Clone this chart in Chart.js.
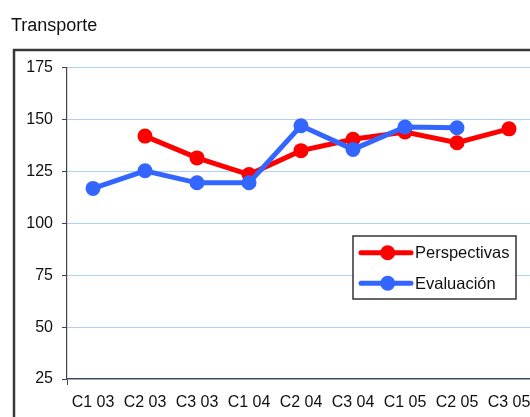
<!DOCTYPE html>
<html>
<head>
<meta charset="utf-8">
<script src="https://cdn.jsdelivr.net/npm/chart.js@4"></script>
<style>
  html, body { margin: 0; padding: 0; background: #fff; overflow: hidden; }
  #wrap { position: absolute; left: 0; top: 0; }
</style>
</head>
<body>
<div id="wrap"><canvas id="transporteChart" width="560" height="440"></canvas></div>
<script>
const categories = ['C1 03', 'C2 03', 'C3 03', 'C1 04', 'C2 04', 'C3 04', 'C1 05', 'C2 05', 'C3 05'];
const perspectivas = [null, 142, 131.5, 123.5, 135, 140.5, 144, 138.8, 145.5];
const evaluacion = [116.8, 125.3, 119.5, 119.5, 147, 135.6, 146.4, 146, null];
const yTicks = [25, 50, 75, 100, 125, 150, 175];

const FONT = "'Liberation Sans', Arial, sans-serif";
const TEXT = '#111111';

// white page + dark frame round the plot, like the spreadsheet chart
const framePlugin = {
  id: 'frame',
  beforeDraw(chart) {
    const c = chart.ctx;
    c.save();
    c.fillStyle = '#fff';
    c.fillRect(0, 0, chart.width, chart.height);
    c.strokeStyle = '#383838';
    c.lineWidth = 2.5;
    c.strokeRect(14, 50, 600, 500);
    c.restore();
  }
};

// legend box inside the plot, drawn from the datasets
const boxLegend = {
  id: 'boxLegend',
  afterDraw(chart) {
    const c = chart.ctx;
    const sets = chart.data.datasets;
    const x = 353, y = 236, w = 163, h = 63;
    c.save();
    c.fillStyle = '#fff';
    c.fillRect(x, y, w, h);
    c.strokeStyle = '#333';
    c.lineWidth = 1.5;
    c.strokeRect(x, y, w, h);
    sets.forEach((ds, i) => {
      const cy = 252.7 + i * 30.6;
      c.strokeStyle = ds.borderColor;
      c.lineWidth = 5;
      c.lineCap = 'round';
      c.beginPath();
      c.moveTo(361, cy);
      c.lineTo(411, cy);
      c.stroke();
      c.fillStyle = ds.borderColor;
      c.beginPath();
      c.arc(387.7, cy, 7.5, 0, Math.PI * 2);
      c.fill();
      c.fillStyle = TEXT;
      c.font = '16.5px ' + FONT;
      c.textBaseline = 'middle';
      c.fillText(ds.label, 415, cy + 1);
    });
    c.restore();
  }
};

new Chart(document.getElementById('transporteChart').getContext('2d'), {
  type: 'line',
  data: {
    labels: categories,
    datasets: [
      {
        label: 'Perspectivas',
        data: perspectivas,
        borderColor: '#ff0000',
        backgroundColor: '#ff0000',
        borderWidth: 5,
        pointRadius: 7.5,
        pointBorderWidth: 0,
        tension: 0,
        order: 1
      },
      {
        label: 'Evaluación',
        data: evaluacion,
        borderColor: '#3366ff',
        backgroundColor: '#3366ff',
        borderWidth: 5,
        pointRadius: 7.5,
        pointBorderWidth: 0,
        tension: 0,
        order: 0
      }
    ]
  },
  options: {
    responsive: false,
    animation: false,
    layout: { padding: { left: 11, right: 25, top: 0, bottom: 0 } },
    plugins: {
      legend: { display: false },
      tooltip: { enabled: false },
      title: {
        display: true,
        text: 'Transporte',
        align: 'start',
        color: TEXT,
        font: { family: FONT, size: 18, weight: 'normal' },
        padding: { top: 15, bottom: 31 }
      }
    },
    scales: {
      x: {
        offset: true,
        afterFit(scale) { scale.height = 61; },
        grid: {
          offset: true,
          drawOnChartArea: false,
          tickLength: 6,
          color: ctx => ctx.index === 0 ? '#444' : 'rgba(0,0,0,0)'
        },
        border: { color: '#444', width: 1.2 },
        ticks: {
          color: TEXT,
          padding: 8,
          maxRotation: 0,
          autoSkip: false,
          font: { family: FONT, size: 16 }
        }
      },
      y: {
        min: yTicks[0],
        max: yTicks[yTicks.length - 1],
        afterFit(scale) { scale.width = 56; },
        afterBuildTicks(scale) { scale.ticks = yTicks.map(v => ({ value: v })); },
        grid: {
          color: '#a9d1fb',
          lineWidth: 1,
          tickColor: '#444',
          tickLength: 5
        },
        border: { color: '#444', width: 1.2 },
        ticks: {
          color: TEXT,
          padding: 9,
          font: { family: FONT, size: 16 }
        }
      }
    }
  },
  plugins: [framePlugin, boxLegend]
});
</script>
</body>
</html>
